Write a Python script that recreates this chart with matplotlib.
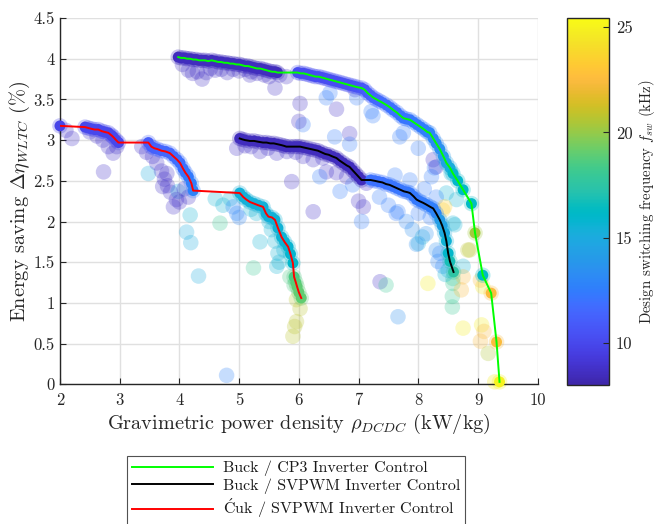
import numpy as np
import matplotlib
matplotlib.use("Agg")
import matplotlib.pyplot as plt
from matplotlib.colors import LinearSegmentedColormap, Normalize

plt.rcParams['font.family'] = ['cmr10', 'DejaVu Serif']
plt.rcParams['mathtext.fontset'] = 'cm'
plt.rcParams['axes.unicode_minus'] = False

# ---------------- data: (power density kW/kg, energy saving %, f_sw kHz) ----------------
# Pareto front: Buck / CP3 inverter control
cp3_front = [
    (3.98, 4.02, 8.5), (4.03, 4.01, 8.5), (4.08, 4.01, 8.5), (4.13, 4.00, 8.5), (4.18, 4.00, 8.5),
    (4.23, 3.99, 8.5), (4.28, 3.99, 8.5), (4.33, 3.98, 8.5), (4.38, 3.98, 8.5), (4.43, 3.98, 8.5),
    (4.48, 3.97, 8.5), (4.54, 3.98, 8.5), (4.60, 3.97, 8.5), (4.65, 3.96, 8.5), (4.70, 3.96, 8.5),
    (4.75, 3.95, 8.5), (4.80, 3.95, 8.5), (4.85, 3.94, 8.5), (4.90, 3.94, 8.5), (4.95, 3.93, 8.5),
    (5.00, 3.93, 8.5), (5.05, 3.92, 8.5), (5.10, 3.91, 8.5), (5.15, 3.91, 8.5), (5.20, 3.90, 8.5),
    (5.25, 3.89, 8.5), (5.30, 3.88, 8.5), (5.35, 3.88, 8.5), (5.40, 3.87, 8.5), (5.45, 3.86, 8.5),
    (5.50, 3.85, 8.5), (5.55, 3.84, 8.5), (5.60, 3.84, 8.5), (5.64, 3.83, 8.5),
    (5.98, 3.83, 10.2), (6.03, 3.82, 10.2), (6.08, 3.82, 10.2), (6.13, 3.81, 10.2), (6.18, 3.80, 10.2),
    (6.23, 3.79, 10.2), (6.28, 3.78, 10.2), (6.33, 3.78, 10.2), (6.38, 3.77, 10.2), (6.43, 3.76, 10.2),
    (6.48, 3.75, 10.3), (6.53, 3.74, 10.3), (6.58, 3.73, 10.3), (6.63, 3.72, 10.3), (6.68, 3.71, 10.3),
    (6.73, 3.70, 10.4), (6.78, 3.69, 10.4), (6.83, 3.68, 10.4), (6.88, 3.67, 10.4), (6.93, 3.66, 10.5),
    (6.98, 3.65, 10.5), (7.05, 3.64, 10.6), (7.10, 3.62, 10.8), (7.15, 3.58, 11.0), (7.20, 3.55, 11.2),
    (7.25, 3.52, 11.4), (7.30, 3.50, 11.5), (7.35, 3.48, 11.6), (7.40, 3.46, 11.7), (7.47, 3.43, 11.8),
    (7.53, 3.40, 11.9), (7.58, 3.37, 12.0), (7.64, 3.34, 12.0), (7.70, 3.30, 12.1), (7.75, 3.27, 12.1),
    (7.80, 3.26, 12.2), (7.86, 3.25, 12.2), (7.92, 3.22, 12.3), (7.98, 3.19, 12.3), (8.04, 3.16, 12.4),
    (8.10, 3.13, 12.5), (8.15, 3.10, 12.6), (8.19, 3.09, 12.8), (8.25, 3.02, 13.0), (8.30, 2.96, 13.2),
    (8.36, 2.89, 13.5), (8.42, 2.80, 14.0), (8.47, 2.72, 14.6), (8.53, 2.66, 15.2), (8.58, 2.59, 15.8),
    (8.66, 2.50, 16.0), (8.75, 2.39, 16.2), (8.89, 2.22, 16.3),
    (8.95, 1.86, 20.3), (9.08, 1.34, 16.2), (9.22, 1.12, 22.5), (9.31, 0.52, 22.5), (9.36, 0.03, 25.0),
]

# Pareto front: Buck / SVPWM inverter control
svpwm_front = [
    (5.01, 3.02, 8.5), (5.05, 3.01, 8.5), (5.10, 3.00, 8.5), (5.18, 2.99, 8.5), (5.25, 2.99, 8.5),
    (5.32, 2.98, 8.5), (5.40, 2.97, 8.5), (5.46, 2.97, 8.5), (5.52, 2.96, 8.5), (5.58, 2.96, 8.5),
    (5.64, 2.95, 8.5), (5.70, 2.94, 8.5), (5.75, 2.93, 8.5), (5.79, 2.92, 8.5), (5.85, 2.92, 8.5),
    (5.92, 2.92, 8.5), (5.97, 2.92, 8.5), (6.02, 2.92, 8.5), (6.08, 2.91, 8.5), (6.14, 2.90, 8.5),
    (6.20, 2.89, 8.5), (6.26, 2.88, 8.5), (6.32, 2.87, 8.5), (6.38, 2.85, 8.5), (6.44, 2.83, 8.5),
    (6.50, 2.82, 8.5), (6.56, 2.80, 8.5), (6.63, 2.78, 8.5), (6.68, 2.75, 8.5), (6.74, 2.72, 8.5),
    (6.80, 2.69, 8.5), (6.85, 2.67, 8.5), (6.90, 2.63, 8.5), (6.95, 2.59, 8.5), (7.00, 2.55, 8.5),
    (7.05, 2.51, 8.5),
    (7.20, 2.51, 12.0), (7.27, 2.50, 12.0), (7.33, 2.49, 12.0), (7.40, 2.48, 12.0), (7.46, 2.46, 12.0),
    (7.52, 2.45, 12.1), (7.58, 2.43, 12.1), (7.64, 2.41, 12.1), (7.70, 2.39, 12.2), (7.76, 2.37, 12.2),
    (7.82, 2.36, 12.2), (7.86, 2.35, 12.3), (7.92, 2.31, 12.3), (7.97, 2.27, 12.3), (8.02, 2.25, 12.4),
    (8.08, 2.23, 12.4), (8.13, 2.21, 12.5), (8.20, 2.18, 12.5), (8.25, 2.16, 12.6),
    (8.30, 2.10, 13.0), (8.36, 2.02, 14.0), (8.40, 1.95, 14.5), (8.44, 1.86, 15.0), (8.47, 1.76, 15.5),
    (8.50, 1.61, 16.0), (8.53, 1.51, 16.8), (8.59, 1.38, 17.5),
]

# Pareto front: Cuk / SVPWM inverter control
cuk_front = [
    (2.00, 3.175, 9.8),
    (2.42, 3.16, 10.0), (2.47, 3.15, 10.0), (2.52, 3.14, 10.0), (2.58, 3.13, 10.0), (2.64, 3.13, 10.0),
    (2.70, 3.11, 10.0), (2.75, 3.10, 10.0), (2.81, 3.09, 10.0), (2.86, 3.06, 10.0), (2.89, 3.04, 10.0),
    (2.94, 3.00, 10.0), (2.98, 2.97, 10.0),
    (3.48, 2.97, 11.0), (3.53, 2.92, 11.1), (3.58, 2.90, 11.2), (3.63, 2.89, 11.3), (3.70, 2.87, 11.4),
    (3.77, 2.86, 11.5), (3.84, 2.84, 11.6), (3.90, 2.80, 11.7), (3.96, 2.76, 11.8), (4.01, 2.72, 11.9),
    (4.06, 2.65, 12.0), (4.10, 2.60, 12.2), (4.15, 2.55, 12.4), (4.20, 2.47, 12.6), (4.23, 2.38, 12.8),
    (5.01, 2.35, 15.4), (5.07, 2.30, 15.4), (5.12, 2.27, 15.4), (5.18, 2.24, 15.4), (5.25, 2.22, 15.4),
    (5.32, 2.20, 15.4), (5.40, 2.18, 15.4), (5.45, 2.10, 15.4), (5.49, 2.06, 15.4), (5.55, 2.05, 15.4),
    (5.60, 2.02, 15.5), (5.65, 1.92, 15.5), (5.71, 1.81, 15.6), (5.76, 1.75, 15.6), (5.82, 1.69, 15.7),
    (5.86, 1.60, 15.8), (5.90, 1.49, 16.0),
    (5.92, 1.32, 18.5), (5.95, 1.25, 18.7), (5.97, 1.20, 18.9), (6.00, 1.13, 19.0), (6.04, 1.06, 19.0),
]

# Dominated designs
dominated = [
    # around first Cuk branches
    (2.20, 3.02, 8.8), (2.10, 3.12, 8.8), (2.50, 3.10, 8.8), (2.62, 3.05, 8.8), (2.72, 3.00, 8.8),
    (2.81, 2.92, 8.8), (2.89, 2.84, 8.8), (2.95, 2.92, 8.8), (2.73, 2.61, 8.8),
    (3.37, 2.92, 8.8), (3.45, 2.85, 8.8), (3.55, 2.80, 8.8), (3.48, 2.59, 15.0), (3.62, 2.72, 8.8),
    (3.70, 2.62, 8.8), (3.75, 2.52, 8.8), (3.80, 2.44, 8.8), (3.85, 2.36, 8.8), (3.98, 2.37, 15.0),
    (3.90, 2.18, 8.8), (4.00, 2.24, 8.8), (4.08, 2.40, 8.8), (4.15, 2.30, 8.8),
    (4.18, 2.08, 15.5), (4.12, 1.87, 15.0), (4.19, 1.74, 15.0), (4.32, 1.33, 15.0), (3.95, 2.27, 8.8),
    (3.79, 2.59, 8.8), (3.72, 2.43, 8.8),
    # around Cuk cyan branch
    (4.60, 2.28, 15.5), (4.73, 2.20, 15.5), (4.85, 2.28, 15.5), (4.68, 1.98, 18.0), (4.96, 2.10, 13.0),
    (5.00, 2.05, 13.0), (4.90, 2.18, 13.0), (5.29, 2.10, 15.5), (5.20, 2.15, 15.5), (5.35, 1.75, 15.5),
    (5.54, 1.90, 15.5), (5.60, 1.76, 15.5), (5.65, 1.61, 15.5), (5.67, 1.50, 15.5), (5.63, 1.45, 15.5),
    (5.24, 1.43, 18.0), (5.85, 1.32, 18.5), (5.92, 1.22, 18.5), (5.96, 1.04, 20.8), (6.02, 0.93, 20.8),
    (5.96, 0.77, 20.8), (5.93, 0.71, 20.8), (5.90, 0.59, 20.8), (4.79, 0.11, 12.8), (5.50, 2.00, 15.5),
    (5.75, 1.65, 15.5),
    # below the CP3 dark branch
    (4.05, 3.93, 8.7), (4.15, 3.86, 8.7), (4.22, 3.82, 8.7), (4.30, 3.84, 8.7), (4.38, 3.75, 8.7),
    (4.45, 3.83, 8.7), (4.52, 3.88, 8.7), (4.60, 3.86, 8.7), (4.70, 3.87, 8.7), (4.80, 3.83, 8.7),
    (4.90, 3.87, 8.7), (5.00, 3.85, 8.7), (5.10, 3.87, 8.7), (5.20, 3.84, 8.7), (5.30, 3.82, 8.7),
    (5.42, 3.80, 8.7), (5.50, 3.78, 8.7), (5.60, 3.64, 8.7), (5.68, 3.80, 8.7), (5.18, 3.80, 8.7),
    (5.79, 3.78, 8.7),
    # below the SVPWM dark branch
    (4.96, 2.90, 8.8), (5.10, 2.93, 8.8), (5.20, 2.92, 8.8), (5.35, 2.86, 8.8), (5.48, 2.90, 8.8),
    (5.63, 2.84, 8.8), (5.80, 2.86, 8.8), (5.95, 2.85, 8.8), (6.07, 2.80, 8.8), (6.24, 2.76, 8.8),
    (6.40, 2.78, 8.8), (6.46, 2.61, 8.8), (6.63, 2.60, 8.8), (6.35, 2.55, 12.5), (5.88, 2.49, 8.8),
    (6.69, 2.37, 12.5), (6.90, 2.45, 12.5), (7.13, 2.47, 8.8), (6.24, 2.12, 8.8), (7.08, 2.18, 8.8),
    (7.05, 2.00, 12.5), (7.00, 2.25, 8.8), (6.80, 2.55, 8.8),
    # between the two Buck fronts
    (6.02, 3.45, 8.8), (6.07, 3.19, 12.5), (6.00, 3.23, 8.8), (6.46, 3.52, 12.5), (6.52, 3.58, 12.5),
    (6.63, 3.38, 8.8), (6.94, 3.62, 8.8), (6.97, 3.52, 12.5), (6.85, 3.08, 8.8), (6.60, 3.04, 12.5),
    (6.85, 2.95, 12.5), (7.21, 3.35, 12.5), (7.24, 3.30, 12.5), (7.69, 3.04, 12.5), (7.75, 3.09, 12.5),
    (8.00, 2.90, 12.5), (8.25, 2.76, 8.8), (8.27, 2.66, 12.5), (8.30, 2.67, 8.8), (8.55, 2.59, 15.5),
    (8.64, 2.27, 15.5), (8.47, 2.35, 15.5), (8.41, 2.14, 23.5), (7.61, 2.57, 12.5), (7.86, 2.51, 12.5),
    (8.22, 2.55, 12.5), (8.10, 2.40, 12.5), (8.30, 2.30, 12.5),
    # below the SVPWM blue branch and high-frequency tail
    (7.63, 2.10, 12.5), (7.66, 2.12, 12.5), (7.80, 2.00, 13.0), (7.90, 1.90, 13.5), (8.00, 1.73, 15.0),
    (8.07, 1.81, 15.0), (7.97, 1.72, 13.5), (8.13, 1.85, 13.5), (8.30, 1.65, 13.5), (8.33, 1.51, 13.0),
    (8.36, 1.61, 13.0), (8.41, 1.45, 13.0), (8.58, 1.98, 15.5), (8.61, 1.96, 15.5),
    (8.44, 2.18, 23.5), (8.75, 1.45, 15.5), (8.58, 1.24, 18.0), (8.58, 1.30, 18.0), (8.57, 1.08, 18.0),
    (8.57, 0.95, 18.0), (8.75, 1.32, 22.5), (8.72, 1.16, 22.5), (8.83, 1.65, 20.8), (8.86, 1.65, 20.8),
    (8.16, 1.24, 24.8), (7.36, 1.26, 8.8), (7.46, 1.22, 18.0), (7.66, 0.83, 13.5),
    (8.75, 0.69, 24.8), (9.06, 0.73, 24.8), (9.04, 0.53, 22.5), (9.10, 0.65, 22.5), (9.17, 0.38, 20.5),
    (9.08, 1.20, 24.8), (9.04, 1.28, 22.5), (9.28, 0.03, 24.8), (8.45, 1.35, 15.5), (8.50, 1.40, 15.5),
    (8.20, 2.05, 12.5), (8.00, 2.10, 12.5), (7.50, 2.20, 12.5), (7.35, 2.30, 12.5),
]

fronts = [
    (cp3_front, (0.0, 1.0, 0.0), 'Buck / CP3 Inverter Control'),
    (svpwm_front, (0.0, 0.0, 0.0), 'Buck / SVPWM Inverter Control'),
    (cuk_front, (1.0, 0.0, 0.0), r'$\acute{\mathrm{C}}$uk / SVPWM Inverter Control'),
]

# parula colormap (MATLAB R2017a+), 64 levels
parula_rgb = [
    (0.2422, 0.1504, 0.6603), (0.2504, 0.1650, 0.7076), (0.2578, 0.1818, 0.7511), (0.2647, 0.1978, 0.7952),
    (0.2706, 0.2147, 0.8364), (0.2751, 0.2342, 0.8710), (0.2783, 0.2559, 0.8991), (0.2803, 0.2782, 0.9221),
    (0.2813, 0.3006, 0.9414), (0.2810, 0.3228, 0.9579), (0.2795, 0.3447, 0.9717), (0.2760, 0.3667, 0.9829),
    (0.2699, 0.3892, 0.9906), (0.2602, 0.4123, 0.9952), (0.2440, 0.4358, 0.9988), (0.2206, 0.4603, 0.9973),
    (0.1963, 0.4847, 0.9892), (0.1834, 0.5074, 0.9798), (0.1786, 0.5289, 0.9682), (0.1764, 0.5499, 0.9520),
    (0.1687, 0.5703, 0.9359), (0.1540, 0.5902, 0.9218), (0.1460, 0.6091, 0.9079), (0.1380, 0.6276, 0.8973),
    (0.1248, 0.6459, 0.8883), (0.1113, 0.6635, 0.8763), (0.0952, 0.6798, 0.8598), (0.0689, 0.6948, 0.8394),
    (0.0297, 0.7082, 0.8163), (0.0036, 0.7203, 0.7917), (0.0067, 0.7312, 0.7660), (0.0433, 0.7411, 0.7394),
    (0.0964, 0.7500, 0.7120), (0.1408, 0.7584, 0.6842), (0.1717, 0.7670, 0.6554), (0.1938, 0.7758, 0.6251),
    (0.2161, 0.7843, 0.5923), (0.2470, 0.7918, 0.5567), (0.2906, 0.7973, 0.5188), (0.3406, 0.8008, 0.4789),
    (0.3909, 0.8029, 0.4354), (0.4456, 0.8024, 0.3909), (0.5044, 0.7993, 0.3480), (0.5616, 0.7942, 0.3045),
    (0.6174, 0.7876, 0.2612), (0.6720, 0.7793, 0.2227), (0.7242, 0.7698, 0.1910), (0.7738, 0.7598, 0.1646),
    (0.8203, 0.7498, 0.1535), (0.8634, 0.7406, 0.1596), (0.9035, 0.7330, 0.1774), (0.9393, 0.7288, 0.2100),
    (0.9728, 0.7298, 0.2394), (0.9956, 0.7434, 0.2371), (0.9970, 0.7659, 0.2199), (0.9952, 0.7893, 0.2028),
    (0.9892, 0.8136, 0.1885), (0.9786, 0.8386, 0.1766), (0.9676, 0.8639, 0.1643), (0.9610, 0.8890, 0.1537),
    (0.9597, 0.9135, 0.1423), (0.9628, 0.9373, 0.1265), (0.9691, 0.9606, 0.1064), (0.9769, 0.9839, 0.0805)]
parula = LinearSegmentedColormap.from_list('parula', parula_rgb, N=256)
norm = Normalize(vmin=8.0, vmax=25.43)

# ---------------- figure ----------------
fig = plt.figure(figsize=(6.59, 5.24), dpi=100)
ax = fig.add_axes([0.091, 0.2666, 0.725, 0.699])

S_BIG, S_SMALL, ALPHA = 125, 62, 0.27
TXT = (0.15, 0.15, 0.15)

all_pts = dominated + cp3_front + svpwm_front + cuk_front
ax.scatter([p[0] for p in all_pts], [p[1] for p in all_pts], s=S_BIG,
           c=[p[2] for p in all_pts], cmap=parula, norm=norm, alpha=ALPHA,
           linewidths=0, clip_on=False, zorder=2)

for pts, col, lab in fronts:
    ax.scatter([p[0] for p in pts], [p[1] for p in pts], s=S_SMALL, c=[p[2] for p in pts],
               cmap=parula, norm=norm, linewidths=0, clip_on=False, zorder=3)
for pts, col, lab in fronts:
    ax.plot([p[0] for p in pts], [p[1] for p in pts], color=col, lw=1.4, zorder=4, label=lab)

ax.set_xlim(2, 10)
ax.set_ylim(0, 4.5)
ax.set_xticks(np.arange(2, 11, 1))
ax.set_yticks(np.arange(0, 4.51, 0.5))
ax.set_yticklabels(['0', '0.5', '1', '1.5', '2', '2.5', '3', '3.5', '4', '4.5'])
ax.grid(True, color=(0.88, 0.88, 0.88), lw=1.0)
ax.set_axisbelow(True)
for sp in ['top', 'right']:
    ax.spines[sp].set_visible(False)
for sp in ['left', 'bottom']:
    ax.spines[sp].set_color(TXT)
    ax.spines[sp].set_linewidth(1.0)
ax.tick_params(direction='in', length=4, width=0.8, colors=TXT, labelsize=12, labelcolor=TXT)
ax.tick_params(axis='x', pad=6)
ax.tick_params(axis='y', pad=4)

ax.set_xlabel(r'Gravimetric power density $\rho_{DCDC}$ (kW/kg)', fontsize=14.6,
              color=TXT, labelpad=3)
ax.set_ylabel(r'Energy saving $\Delta\eta_{WLTC}$ (%)', fontsize=14.6, color=TXT, labelpad=1)

# colorbar
cax = fig.add_axes([0.860, 0.265, 0.0637, 0.7006])
sm = matplotlib.cm.ScalarMappable(norm=norm, cmap=parula)
cb = fig.colorbar(sm, cax=cax)
cb.set_ticks([10, 15, 20, 25])
cb.ax.tick_params(direction='in', length=4, width=0.8, labelsize=12, colors=TXT, pad=5)
cb.outline.set_edgecolor(TXT)
cb.outline.set_linewidth(1.0)
cb.set_label(r'Design switching frequency $f_{sw}$ (kHz)', fontsize=10.7, color=TXT, labelpad=3)

# legend below
leg = fig.legend(loc='upper left', bbox_to_anchor=(0.193, 0.130), borderaxespad=0,
                 fontsize=11.5, frameon=True, fancybox=False, handlelength=5.1,
                 handletextpad=0.6, labelspacing=0.15, borderpad=0.3)
leg.get_frame().set_edgecolor(TXT)
leg.get_frame().set_linewidth(0.8)
for t in leg.get_texts():
    t.set_color((0.1, 0.1, 0.1))

fig.savefig('out.png', dpi=100)
